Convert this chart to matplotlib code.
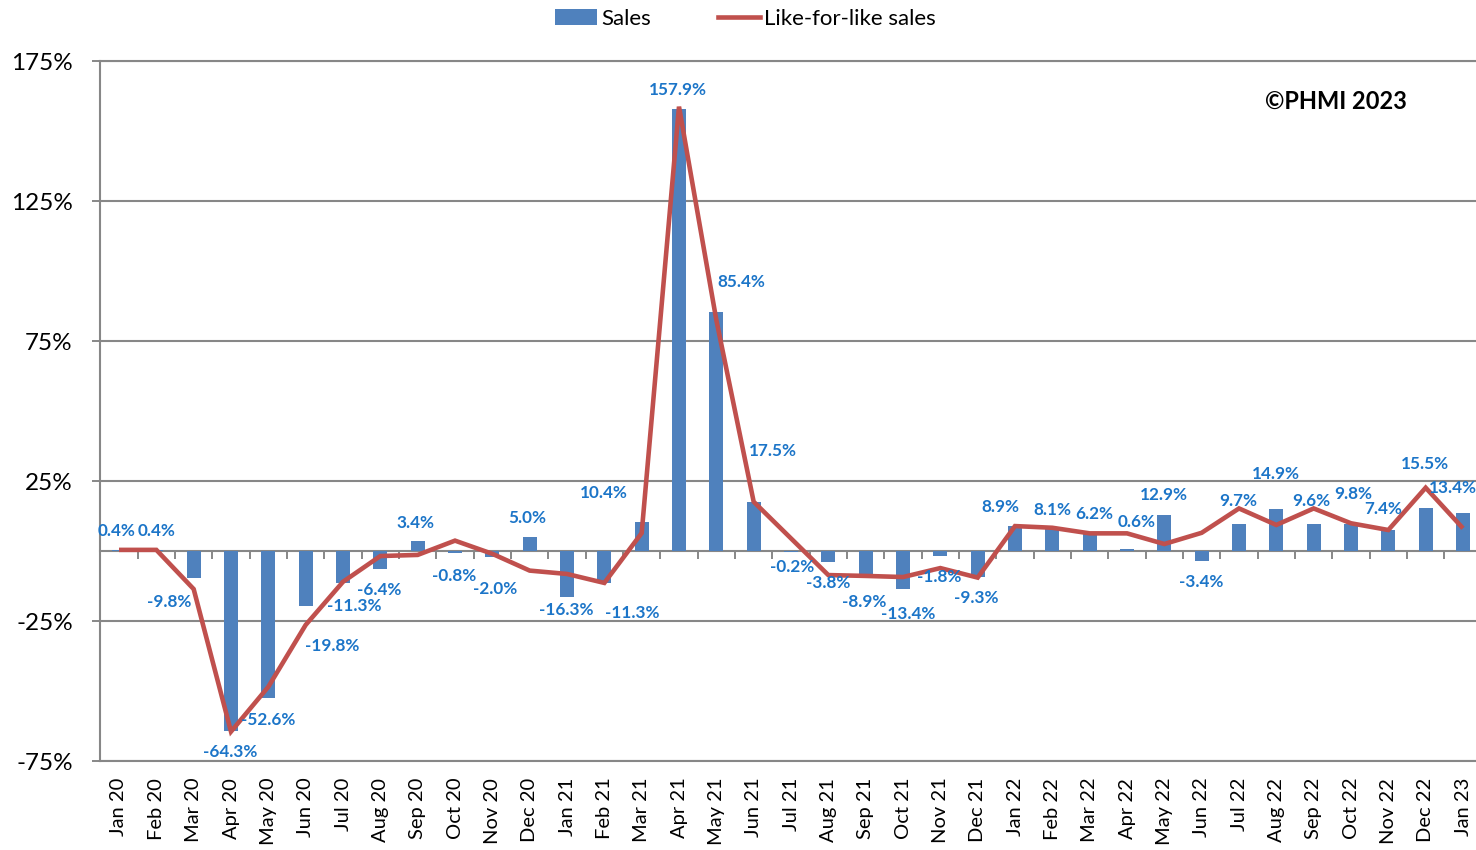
import matplotlib
matplotlib.use("Agg")
import matplotlib.pyplot as plt
from matplotlib.patches import Patch
from matplotlib.lines import Line2D
from matplotlib.ticker import FuncFormatter

# ---- data -------------------------------------------------------------
months = ["Jan 20", "Feb 20", "Mar 20", "Apr 20", "May 20", "Jun 20", "Jul 20",
          "Aug 20", "Sep 20", "Oct 20", "Nov 20", "Dec 20", "Jan 21", "Feb 21",
          "Mar 21", "Apr 21", "May 21", "Jun 21", "Jul 21", "Aug 21", "Sep 21",
          "Oct 21", "Nov 21", "Dec 21", "Jan 22", "Feb 22", "Mar 22", "Apr 22",
          "May 22", "Jun 22", "Jul 22", "Aug 22", "Sep 22", "Oct 22", "Nov 22",
          "Dec 22", "Jan 23"]

sales = [0.4, 0.4, -9.8, -64.3, -52.6, -19.8, -11.3, -6.4, 3.4, -0.8, -2.0, 5.0,
         -16.3, -11.3, 10.4, 157.9, 85.4, 17.5, -0.2, -3.8, -8.9, -13.4, -1.8,
         -9.3, 8.9, 8.1, 6.2, 0.6, 12.9, -3.4, 9.7, 14.9, 9.6, 9.8, 7.4, 15.5,
         13.4]

like_for_like = [0.4, 0.4, -13.6, -64.5, -48.5, -26.4, -11.0, -1.8, -1.4, 3.7,
                 -1.0, -7.0, -8.2, -11.4, 6.4, 158.7, 82.5, 17.6, 4.5, -8.6,
                 -8.9, -9.3, -6.1, -9.5, 8.9, 8.3, 6.3, 6.3, 2.5, 6.5, 15.2,
                 9.3, 15.2, 9.9, 7.5, 22.6, 8.1]

y_ticks = [-75, -25, 25, 75, 125, 175]

# label placement (pixels from the end of each bar: right, down)
label_dx = [-2, 0, -24, -1, 0, 27, 11, -1, -2, -1, 3, -2, -1, 28, -38, -1, 25,
            19, 1, 0, -1, 5, -1, -1, -15, 0, 5, 10, 0, 0, -1, 0, -2, 2, -5, -1,
            -10]
label_dy = [-19, -19, 24, 21, 22, 40, 23, 21, -18, 23, 32, -19, 13, 30, -29,
            -19, -30, -51, 15, 21, 26, 25, 21, 21, -19, -18, -20, -27, -20, 21,
            -23, -35, -23, -30, -21, -44, -25]

# ---- style ------------------------------------------------------------
BAR = "#4F81BD"
LINE = "#C0504D"
LABEL = "#1C75C8"
GRID = "#878787"
FONT = "Lato"

plt.rcParams["font.family"] = [FONT, "DejaVu Sans"]

W, H = 1476, 850
fig = plt.figure(figsize=(W / 100, H / 100), dpi=100)

n = len(months)
slot = (1463 - 119) / (n - 1)
left_px = 119 - slot / 2
right_px = 1463 + slot / 2
ax = fig.add_axes([left_px / W, (H - 761) / H, (right_px - left_px) / W, 700 / H])

x = list(range(n))
ax.bar(x, sales, width=0.38, color=BAR, zorder=2)
ax.plot(x, like_for_like, color=LINE, lw=3.3, zorder=3,
        solid_joinstyle="miter", solid_capstyle="butt")

for i, v in enumerate(sales):
    ax.annotate(f"{v:.1f}%", xy=(i, v), xytext=(label_dx[i], -label_dy[i]),
                textcoords="offset pixels", ha="center", va="center",
                fontsize=12.3, fontweight="bold", color=LABEL, zorder=5,
                annotation_clip=False)

ax.set_xlim(-0.5, n - 0.5)
ax.set_ylim(y_ticks[0], y_ticks[-1])
ax.set_yticks(y_ticks)
ax.yaxis.set_major_formatter(FuncFormatter(lambda v, _: f"{v:.0f}%"))
ax.yaxis.grid(True, color=GRID, lw=1.5)
ax.set_axisbelow(True)
ax.tick_params(axis="y", length=5.8, width=1.4, color=GRID, pad=14,
               labelsize=17.5, labelcolor="black")

ax.set_xticks(x)
ax.set_xticklabels(months, rotation=90, fontsize=14.5)
ax.tick_params(axis="x", length=0, pad=12)

for side in ("left", "bottom", "top"):
    ax.spines[side].set_color(GRID)
    ax.spines[side].set_linewidth(1.5)
ax.spines["right"].set_visible(False)

# category axis crossing at zero, ticks between months
zero_frac = (0 - y_ticks[0]) / (y_ticks[-1] - y_ticks[0])
zax = ax.secondary_xaxis(zero_frac)
zax.set_xticks([i + 0.5 for i in range(n - 1)])
zax.tick_params(axis="x", direction="out", length=5.8, width=1.4, color=GRID,
                labelbottom=False, labeltop=False)
for sp in zax.spines.values():
    sp.set_color(GRID)
    sp.set_linewidth(1.5)

handles = [Patch(facecolor=BAR, edgecolor="none"),
           Line2D([0], [0], color=LINE, lw=3.3)]
fig.legend(handles, ["Sales", "Like-for-like sales"], loc="center",
           bbox_to_anchor=(0.505, 1 - 19 / H), ncol=2, frameon=False,
           fontsize=16, handlelength=1.9, handletextpad=0.2,
           columnspacing=3.0, borderaxespad=0)

fig.text(1336 / W, 1 - 101 / H, "\u00a9PHMI 2023", ha="center", va="center",
         fontsize=17, fontweight="bold", color="black")

fig.savefig("out.png", dpi=100)
